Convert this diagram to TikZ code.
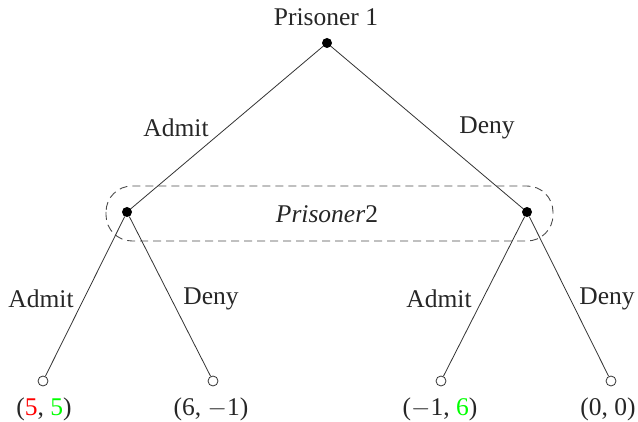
\documentclass[tikz,border=0pt]{standalone}
\usepackage{fontspec}
\setmainfont{Liberation Serif}
\begin{document}
\begin{tikzpicture}[x=1pt,y=-1pt,
  every node/.style={font=\fontsize{25.5}{30}\selectfont, text=black!85},
  decision/.style={circle,fill=black,inner sep=0pt,minimum size=10pt},
  terminal/.style={circle,draw=black!80,fill=white,line width=0.8pt,inner sep=0pt,minimum size=10pt},
  branch/.style={draw=black!80,line width=0.8pt},
  lbl/.style={inner sep=1pt},
  infoset/.style={draw=black!70,line width=0.9pt,dash pattern=on 8pt off 5pt,rounded corners=26pt}]
\useasboundingbox (0,0) rectangle (638,422);

% decision nodes
\node[decision] (p1) at (327,43) {};
\node[decision] (l) at (127,212) {};
\node[decision] (r) at (527,212) {};

% terminal nodes
\node[terminal] (t1) at (43,381) {};
\node[terminal] (t2) at (213,381) {};
\node[terminal] (t3) at (441,381) {};
\node[terminal] (t4) at (611,381) {};

% information set of the second player
\draw[infoset] (106,186) rectangle (553,241);
\node (p2) at (327,214) {\textit{Prisoner}2};

% branches
\draw[branch] (p1) -- (l);
\draw[branch] (p1) -- (r);
\draw[branch] (l) -- (t1);
\draw[branch] (l) -- (t2);
\draw[branch] (r) -- (t3);
\draw[branch] (r) -- (t4);

% labels
\node (n1) at (326,17) {Prisoner 1};
\node[lbl] (a1) at (176,128) {Admit};
\node[lbl] (d1) at (487,128) {Deny};
\node[lbl] (a2) at (41,299) {Admit};
\node[lbl] (d2) at (211,299) {Deny};
\node[lbl] (a3) at (439,299) {Admit};
\node[lbl] (d3) at (607,299) {Deny};

% payoffs
\node (u1) at (44,409) {(\textcolor{red}{5}, \textcolor{green}{5})};
\node (u2) at (211,409) {(6, \(-\)1)};
\node (u3) at (440,409) {(\(-\)1, \textcolor{green}{6})};
\node (u4) at (608,409) {(0, 0)};
\end{tikzpicture}
\end{document}
